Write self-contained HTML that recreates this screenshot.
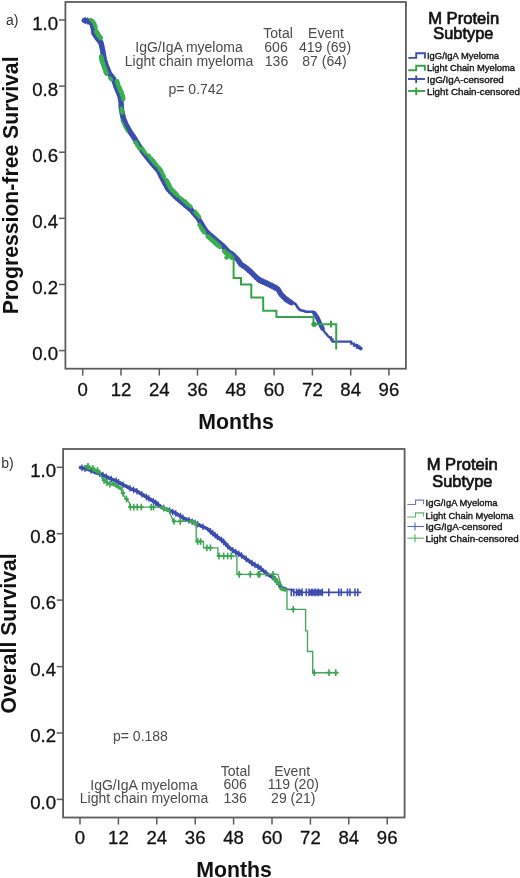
<!DOCTYPE html>
<html><head><meta charset="utf-8"><style>
html,body{margin:0;padding:0;background:#fff;width:520px;height:878px;overflow:hidden}
svg{display:block;font-family:"Liberation Sans",sans-serif;filter:blur(0.35px)}
</style></head><body>
<svg width="520" height="878" viewBox="0 0 520 878">
<rect width="520" height="878" fill="#fff"/>
<rect x="65.4" y="2" width="340.5" height="366.7" fill="none" stroke="#5c5c5c" stroke-width="1.8"/>
<line x1="59" y1="350.6" x2="65.4" y2="350.6" stroke="#5c5c5c" stroke-width="1.5"/>
<text x="58" y="360.1" text-anchor="end" font-size="18.6" fill="#111" stroke="#111" stroke-width="0.3">0.0</text>
<line x1="59" y1="284.5" x2="65.4" y2="284.5" stroke="#5c5c5c" stroke-width="1.5"/>
<text x="58" y="294.0" text-anchor="end" font-size="18.6" fill="#111" stroke="#111" stroke-width="0.3">0.2</text>
<line x1="59" y1="218.4" x2="65.4" y2="218.4" stroke="#5c5c5c" stroke-width="1.5"/>
<text x="58" y="227.9" text-anchor="end" font-size="18.6" fill="#111" stroke="#111" stroke-width="0.3">0.4</text>
<line x1="59" y1="152.2" x2="65.4" y2="152.2" stroke="#5c5c5c" stroke-width="1.5"/>
<text x="58" y="161.7" text-anchor="end" font-size="18.6" fill="#111" stroke="#111" stroke-width="0.3">0.6</text>
<line x1="59" y1="86.1" x2="65.4" y2="86.1" stroke="#5c5c5c" stroke-width="1.5"/>
<text x="58" y="95.6" text-anchor="end" font-size="18.6" fill="#111" stroke="#111" stroke-width="0.3">0.8</text>
<line x1="59" y1="20.0" x2="65.4" y2="20.0" stroke="#5c5c5c" stroke-width="1.5"/>
<text x="58" y="29.5" text-anchor="end" font-size="18.6" fill="#111" stroke="#111" stroke-width="0.3">1.0</text>
<line x1="82.7" y1="368.7" x2="82.7" y2="375.6" stroke="#5c5c5c" stroke-width="1.5"/>
<text x="82.7" y="395.6" text-anchor="middle" font-size="18.6" fill="#111" stroke="#111" stroke-width="0.3">0</text>
<line x1="121.0" y1="368.7" x2="121.0" y2="375.6" stroke="#5c5c5c" stroke-width="1.5"/>
<text x="121.0" y="395.6" text-anchor="middle" font-size="18.6" fill="#111" stroke="#111" stroke-width="0.3">12</text>
<line x1="159.3" y1="368.7" x2="159.3" y2="375.6" stroke="#5c5c5c" stroke-width="1.5"/>
<text x="159.3" y="395.6" text-anchor="middle" font-size="18.6" fill="#111" stroke="#111" stroke-width="0.3">24</text>
<line x1="197.5" y1="368.7" x2="197.5" y2="375.6" stroke="#5c5c5c" stroke-width="1.5"/>
<text x="197.5" y="395.6" text-anchor="middle" font-size="18.6" fill="#111" stroke="#111" stroke-width="0.3">36</text>
<line x1="235.8" y1="368.7" x2="235.8" y2="375.6" stroke="#5c5c5c" stroke-width="1.5"/>
<text x="235.8" y="395.6" text-anchor="middle" font-size="18.6" fill="#111" stroke="#111" stroke-width="0.3">48</text>
<line x1="274.1" y1="368.7" x2="274.1" y2="375.6" stroke="#5c5c5c" stroke-width="1.5"/>
<text x="274.1" y="395.6" text-anchor="middle" font-size="18.6" fill="#111" stroke="#111" stroke-width="0.3">60</text>
<line x1="312.4" y1="368.7" x2="312.4" y2="375.6" stroke="#5c5c5c" stroke-width="1.5"/>
<text x="312.4" y="395.6" text-anchor="middle" font-size="18.6" fill="#111" stroke="#111" stroke-width="0.3">72</text>
<line x1="350.7" y1="368.7" x2="350.7" y2="375.6" stroke="#5c5c5c" stroke-width="1.5"/>
<text x="350.7" y="395.6" text-anchor="middle" font-size="18.6" fill="#111" stroke="#111" stroke-width="0.3">84</text>
<line x1="388.9" y1="368.7" x2="388.9" y2="375.6" stroke="#5c5c5c" stroke-width="1.5"/>
<text x="388.9" y="395.6" text-anchor="middle" font-size="18.6" fill="#111" stroke="#111" stroke-width="0.3">96</text>
<text x="236" y="428.8" text-anchor="middle" font-weight="bold" font-size="21.3" fill="#111">Months</text>
<text transform="translate(18.3,185.4) rotate(-90)" text-anchor="middle" font-size="21.2" font-weight="bold" fill="#111">Progression-free Survival</text>
<text x="6" y="25" font-size="14" fill="#333">a)</text>
<text x="189" y="51.6" text-anchor="middle" font-size="14" fill="#4a4a4a">IgG/IgA myeloma</text>
<text x="189" y="65.6" text-anchor="middle" font-size="14" fill="#4a4a4a">Light chain myeloma</text>
<text x="278" y="37.6" text-anchor="middle" font-size="14" fill="#4a4a4a">Total</text>
<text x="326" y="37.6" text-anchor="middle" font-size="14" fill="#4a4a4a">Event</text>
<text x="276" y="51.5" text-anchor="middle" font-size="14" fill="#4a4a4a">606</text>
<text x="325" y="51.5" text-anchor="middle" font-size="14" fill="#4a4a4a">419 (69)</text>
<text x="276.5" y="65.8" text-anchor="middle" font-size="14" fill="#4a4a4a">136</text>
<text x="324.5" y="65.8" text-anchor="middle" font-size="14" fill="#4a4a4a">87 (64)</text>
<text x="168.5" y="94" font-size="14" fill="#4a4a4a">p= 0.742</text>
<text x="463.7" y="23.5" text-anchor="middle" font-size="16.6" fill="#111" stroke="#111" stroke-width="0.7">M Protein</text>
<text x="463.3" y="38.8" text-anchor="middle" font-size="16.4" fill="#111" stroke="#111" stroke-width="0.7">Subtype</text>
<polyline points="408.3,57.9 416.2,57.9 416.2,53.300000000000004 424.9,53.300000000000004 424.9,58.4" fill="none" stroke="#3b4dae" stroke-width="1.9"/>
<polyline points="408.3,70.3 416.2,70.3 416.2,65.7 424.9,65.7 424.9,70.8" fill="none" stroke="#33a548" stroke-width="1.9"/>
<line x1="408" y1="79.0" x2="425" y2="79.0" stroke="#3b4dae" stroke-width="1.9"/>
<line x1="416.2" y1="75.5" x2="416.2" y2="83.1" stroke="#3b4dae" stroke-width="1.9"/>
<line x1="408" y1="91.0" x2="425" y2="91.0" stroke="#33a548" stroke-width="1.9"/>
<line x1="416.2" y1="87.5" x2="416.2" y2="95.1" stroke="#33a548" stroke-width="1.9"/>
<text x="427" y="58.8" font-size="9.4" fill="#111" textLength="72" lengthAdjust="spacingAndGlyphs" stroke="#111" stroke-width="0.35">IgG/IgA Myeloma</text>
<text x="427" y="71.2" font-size="9.4" fill="#111" textLength="88" lengthAdjust="spacingAndGlyphs" stroke="#111" stroke-width="0.35">Light Chain Myeloma</text>
<text x="427" y="82.8" font-size="9.4" fill="#111" textLength="76.8" lengthAdjust="spacingAndGlyphs" stroke="#111" stroke-width="0.35">IgG/IgA-censored</text>
<text x="427" y="94.8" font-size="9.4" fill="#111" textLength="93" lengthAdjust="spacingAndGlyphs" stroke="#111" stroke-width="0.35">Light Chain-censored</text>
<polyline points="84.2,20.4 88.6,21.2 92.0,23.6 93.4,28.4 93.9,33.2 97.2,38.0 101.0,42.8 102.5,49.6 103.5,55.0 104.4,60.0 105.9,64.6 109.2,73.3 113.6,79.0 116.0,86.7 118.8,93.0 120.0,96.0 121.0,101.9 121.5,110.0 123.3,118.1 126.2,125.0 130.2,131.9 134.8,138.8 138.3,144.6 143.5,152.7 150.4,161.5 158.5,170.8 163.1,180.0 168.1,189.2 175.0,196.2 183.1,203.1 191.2,210.0 198.0,218.0 202.7,226.2 206.9,232.3 215.0,239.2 223.1,246.2 227.7,251.2 233.1,255.0 237.7,259.6 240.8,264.2 245.4,267.3 250.8,271.9 256.2,277.3 259.6,280.2 266.2,283.1 273.1,286.5 277.7,288.8 281.2,294.6 285.8,299.2 291.5,302.7" fill="none" stroke="#3b4dae" stroke-width="5.4" stroke-linejoin="round" stroke-linecap="round"/>
<polyline points="291.5,302.7 295.0,303.5 296.5,305.5 298.0,308.0 300.0,310.0 304.0,311.0 306.0,311.8 313.1,311.8" fill="none" stroke="#3b4dae" stroke-width="2.6" stroke-linejoin="round" stroke-linecap="round"/>
<polyline points="314.5,313.5 317.0,317.0 320.0,323.5 322.5,328.5" fill="none" stroke="#3b4dae" stroke-width="4.6" stroke-linejoin="round" stroke-linecap="round"/>
<polyline points="313.1,311.8 315.0,313.5 322.5,328.5 324.5,332.0 326.5,334.0 327.5,335.5 329.2,337.3" fill="none" stroke="#3b4dae" stroke-width="2.4" stroke-linejoin="round" stroke-linecap="round"/>
<polyline points="329.2,337.3 331,337.3 331,339.5 332.5,339.5 332.5,341.6 351.2,341.6 351.2,343.6 354,343.6 354,345.6 357,345.6 357,347.6 360.6,347.6" fill="none" stroke="#3b4dae" stroke-width="2.3" stroke-linejoin="miter"/>
<line x1="356.5" y1="345.5" x2="360.8" y2="348.5" stroke="#3b4dae" stroke-width="3.8" stroke-linecap="round"/>
<path d="M85.3 17.2V24.0M82.7 20.6H87.9" stroke="#3b4dae" stroke-width="1.3"/>
<path d="M87.5 17.6V24.4M84.9 21.0H90.1" stroke="#3b4dae" stroke-width="1.3"/>
<path d="M92.3 21.4V28.2M89.8 24.8H94.9" stroke="#3b4dae" stroke-width="1.3"/>
<path d="M93.1 23.8V30.6M90.5 27.2H95.7" stroke="#3b4dae" stroke-width="1.3"/>
<path d="M93.5 26.2V33.0M90.9 29.6H96.1" stroke="#3b4dae" stroke-width="1.3"/>
<path d="M93.8 28.6V35.4M91.2 32.0H96.4" stroke="#3b4dae" stroke-width="1.3"/>
<path d="M94.7 31.0V37.8M92.1 34.4H97.3" stroke="#3b4dae" stroke-width="1.3"/>
<path d="M96.4 33.4V40.2M93.8 36.8H99.0" stroke="#3b4dae" stroke-width="1.3"/>
<path d="M98.2 35.8V42.6M95.6 39.2H100.8" stroke="#3b4dae" stroke-width="1.3"/>
<path d="M100.0 38.2V45.0M97.5 41.6H102.6" stroke="#3b4dae" stroke-width="1.3"/>
<path d="M101.2 40.5V47.3M98.7 43.9H103.8" stroke="#3b4dae" stroke-width="1.3"/>
<path d="M101.8 42.8V49.6M99.2 46.2H104.3" stroke="#3b4dae" stroke-width="1.3"/>
<path d="M102.8 47.6V54.4M100.2 51.0H105.3" stroke="#3b4dae" stroke-width="1.3"/>
<path d="M103.2 50.2V57.0M100.7 53.6H105.8" stroke="#3b4dae" stroke-width="1.3"/>
<path d="M104.8 57.8V64.5M102.2 61.1H107.4" stroke="#3b4dae" stroke-width="1.3"/>
<path d="M105.5 60.0V66.8M102.9 63.4H108.1" stroke="#3b4dae" stroke-width="1.3"/>
<path d="M107.1 64.5V71.3M104.5 67.9H109.7" stroke="#3b4dae" stroke-width="1.3"/>
<path d="M108.8 68.8V75.6M106.2 72.2H111.4" stroke="#3b4dae" stroke-width="1.3"/>
<path d="M109.9 70.8V77.7M107.3 74.2H112.5" stroke="#3b4dae" stroke-width="1.3"/>
<path d="M111.4 72.8V79.6M108.8 76.2H114.0" stroke="#3b4dae" stroke-width="1.3"/>
<path d="M112.9 74.6V81.5M110.3 78.0H115.5" stroke="#3b4dae" stroke-width="1.3"/>
<path d="M114.8 79.4V86.2M112.2 82.8H117.4" stroke="#3b4dae" stroke-width="1.3"/>
<path d="M115.6 82.0V88.8M113.0 85.4H118.2" stroke="#3b4dae" stroke-width="1.3"/>
<path d="M117.4 86.4V93.2M114.8 89.8H120.0" stroke="#3b4dae" stroke-width="1.3"/>
<path d="M118.3 88.5V95.4M115.7 92.0H120.9" stroke="#3b4dae" stroke-width="1.3"/>
<path d="M119.4 91.1V97.9M116.8 94.5H122.0" stroke="#3b4dae" stroke-width="1.3"/>
<path d="M120.2 94.1V100.9M117.7 97.5H122.8" stroke="#3b4dae" stroke-width="1.3"/>
<path d="M120.8 97.0V103.8M118.2 100.4H123.3" stroke="#3b4dae" stroke-width="1.3"/>
<path d="M121.2 102.5V109.4M118.7 106.0H123.8" stroke="#3b4dae" stroke-width="1.3"/>
<path d="M121.4 105.2V112.1M118.8 108.7H124.0" stroke="#3b4dae" stroke-width="1.3"/>
<path d="M121.8 107.9V114.8M119.2 111.3H124.4" stroke="#3b4dae" stroke-width="1.3"/>
<path d="M122.4 110.6V117.5M119.8 114.0H125.0" stroke="#3b4dae" stroke-width="1.3"/>
<path d="M123.0 113.3V120.2M120.4 116.8H125.6" stroke="#3b4dae" stroke-width="1.3"/>
<path d="M125.7 120.4V127.2M123.1 123.8H128.3" stroke="#3b4dae" stroke-width="1.3"/>
<path d="M126.9 122.8V129.6M124.3 126.2H129.5" stroke="#3b4dae" stroke-width="1.3"/>
<path d="M128.2 125.0V131.8M125.6 128.4H130.8" stroke="#3b4dae" stroke-width="1.3"/>
<path d="M132.5 132.0V138.8M129.9 135.4H135.1" stroke="#3b4dae" stroke-width="1.3"/>
<path d="M135.4 136.4V143.2M132.8 139.8H138.0" stroke="#3b4dae" stroke-width="1.3"/>
<path d="M136.6 138.3V145.1M134.0 141.7H139.2" stroke="#3b4dae" stroke-width="1.3"/>
<path d="M139.0 142.2V149.0M136.4 145.6H141.6" stroke="#3b4dae" stroke-width="1.3"/>
<path d="M140.2 144.2V151.0M137.7 147.6H142.8" stroke="#3b4dae" stroke-width="1.3"/>
<path d="M141.6 146.3V153.1M139.0 149.7H144.2" stroke="#3b4dae" stroke-width="1.3"/>
<path d="M145.6 151.9V158.7M143.0 155.3H148.2" stroke="#3b4dae" stroke-width="1.3"/>
<path d="M148.3 155.5V162.3M145.7 158.9H150.9" stroke="#3b4dae" stroke-width="1.3"/>
<path d="M151.2 159.0V165.8M148.6 162.4H153.8" stroke="#3b4dae" stroke-width="1.3"/>
<path d="M152.8 160.9V167.7M150.2 164.3H155.4" stroke="#3b4dae" stroke-width="1.3"/>
<path d="M154.4 162.8V169.6M151.8 166.2H157.0" stroke="#3b4dae" stroke-width="1.3"/>
<path d="M159.1 168.6V175.4M156.5 172.0H161.7" stroke="#3b4dae" stroke-width="1.3"/>
<path d="M161.4 173.2V180.0M158.8 176.6H164.0" stroke="#3b4dae" stroke-width="1.3"/>
<path d="M167.5 184.6V191.4M164.9 188.0H170.1" stroke="#3b4dae" stroke-width="1.3"/>
<path d="M169.0 186.7V193.5M166.4 190.1H171.6" stroke="#3b4dae" stroke-width="1.3"/>
<path d="M172.4 190.2V197.0M169.8 193.6H175.0" stroke="#3b4dae" stroke-width="1.3"/>
<path d="M174.1 191.9V198.7M171.5 195.3H176.7" stroke="#3b4dae" stroke-width="1.3"/>
<path d="M176.0 193.7V200.5M173.4 197.1H178.6" stroke="#3b4dae" stroke-width="1.3"/>
<path d="M178.0 195.4V202.2M175.4 198.8H180.6" stroke="#3b4dae" stroke-width="1.3"/>
<path d="M180.1 197.1V203.9M177.5 200.5H182.7" stroke="#3b4dae" stroke-width="1.3"/>
<path d="M184.1 200.6V207.4M181.5 204.0H186.7" stroke="#3b4dae" stroke-width="1.3"/>
<path d="M186.1 202.3V209.1M183.5 205.7H188.7" stroke="#3b4dae" stroke-width="1.3"/>
<path d="M188.2 204.0V210.8M185.6 207.4H190.8" stroke="#3b4dae" stroke-width="1.3"/>
<path d="M192.0 207.6V214.4M189.4 211.0H194.6" stroke="#3b4dae" stroke-width="1.3"/>
<path d="M193.8 209.6V216.4M191.2 213.0H196.3" stroke="#3b4dae" stroke-width="1.3"/>
<path d="M195.4 211.6V218.4M192.8 215.0H198.0" stroke="#3b4dae" stroke-width="1.3"/>
<path d="M200.9 219.7V226.5M198.3 223.1H203.5" stroke="#3b4dae" stroke-width="1.3"/>
<path d="M202.1 221.8V228.6M199.5 225.2H204.7" stroke="#3b4dae" stroke-width="1.3"/>
<path d="M203.4 223.8V230.6M200.8 227.2H206.0" stroke="#3b4dae" stroke-width="1.3"/>
<path d="M207.9 229.8V236.6M205.3 233.2H210.5" stroke="#3b4dae" stroke-width="1.3"/>
<path d="M209.9 231.5V238.3M207.3 234.9H212.5" stroke="#3b4dae" stroke-width="1.3"/>
<path d="M212.0 233.2V240.0M209.4 236.6H214.6" stroke="#3b4dae" stroke-width="1.3"/>
<path d="M214.0 234.9V241.7M211.4 238.3H216.6" stroke="#3b4dae" stroke-width="1.3"/>
<path d="M216.0 236.7V243.5M213.4 240.1H218.6" stroke="#3b4dae" stroke-width="1.3"/>
<path d="M218.0 238.4V245.2M215.4 241.8H220.6" stroke="#3b4dae" stroke-width="1.3"/>
<path d="M220.1 240.2V247.0M217.5 243.6H222.7" stroke="#3b4dae" stroke-width="1.3"/>
<path d="M222.1 241.9V248.7M219.5 245.3H224.7" stroke="#3b4dae" stroke-width="1.3"/>
<path d="M223.9 243.6V250.4M221.3 247.0H226.5" stroke="#3b4dae" stroke-width="1.3"/>
<path d="M225.4 245.3V252.1M222.8 248.7H228.0" stroke="#3b4dae" stroke-width="1.3"/>
<path d="M226.9 247.0V253.8M224.3 250.4H229.5" stroke="#3b4dae" stroke-width="1.3"/>
<path d="M232.2 251.0V257.8M229.6 254.4H234.8" stroke="#3b4dae" stroke-width="1.3"/>
<path d="M238.5 257.4V264.1M235.9 260.8H241.1" stroke="#3b4dae" stroke-width="1.3"/>
<path d="M248.1 266.2V273.0M245.5 269.6H250.7" stroke="#3b4dae" stroke-width="1.3"/>
<path d="M249.9 267.7V274.5M247.3 271.1H252.5" stroke="#3b4dae" stroke-width="1.3"/>
<path d="M251.7 269.4V276.2M249.1 272.8H254.3" stroke="#3b4dae" stroke-width="1.3"/>
<path d="M255.3 273.0V279.8M252.7 276.4H257.9" stroke="#3b4dae" stroke-width="1.3"/>
<path d="M257.1 274.6V281.4M254.5 278.0H259.7" stroke="#3b4dae" stroke-width="1.3"/>
<path d="M258.8 276.1V282.9M256.1 279.5H261.4" stroke="#3b4dae" stroke-width="1.3"/>
<path d="M260.7 277.3V284.1M258.1 280.7H263.3" stroke="#3b4dae" stroke-width="1.3"/>
<path d="M262.9 278.2V285.0M260.3 281.6H265.5" stroke="#3b4dae" stroke-width="1.3"/>
<path d="M265.1 279.2V286.0M262.5 282.6H267.7" stroke="#3b4dae" stroke-width="1.3"/>
<path d="M267.4 280.3V287.1M264.8 283.7H270.0" stroke="#3b4dae" stroke-width="1.3"/>
<path d="M269.6 281.4V288.2M267.0 284.8H272.2" stroke="#3b4dae" stroke-width="1.3"/>
<path d="M272.0 282.5V289.3M269.4 285.9H274.6" stroke="#3b4dae" stroke-width="1.3"/>
<path d="M274.2 283.7V290.5M271.6 287.1H276.9" stroke="#3b4dae" stroke-width="1.3"/>
<path d="M276.6 284.8V291.6M273.9 288.2H279.2" stroke="#3b4dae" stroke-width="1.3"/>
<path d="M280.6 290.2V297.0M278.0 293.6H283.2" stroke="#3b4dae" stroke-width="1.3"/>
<path d="M282.4 292.4V299.1M279.8 295.8H285.0" stroke="#3b4dae" stroke-width="1.3"/>
<path d="M284.6 294.7V301.4M282.0 298.1H287.2" stroke="#3b4dae" stroke-width="1.3"/>
<path d="M286.8 296.4V303.2M284.1 299.8H289.4" stroke="#3b4dae" stroke-width="1.3"/>
<path d="M288.6 297.6V304.3M286.0 300.9H291.2" stroke="#3b4dae" stroke-width="1.3"/>
<polyline points="90.8,19.8 91.7,20.4 92.5,21.0 94.3,22.9 94.7,24.1 95.0,25.3 95.4,26.5 95.8,28.2" fill="none" stroke="#3aaf4e" stroke-width="3.7" stroke-linejoin="round" stroke-linecap="round"/>
<path d="M93.6 19.4V25.8M91.0 22.6H96.2" stroke="#3aaf4e" stroke-width="1.3"/>
<path d="M95.0 22.1V28.5M92.4 25.3H97.6" stroke="#3aaf4e" stroke-width="1.3"/>
<polyline points="96.6,31.7 96.2,31.6 96.9,32.6 97.5,33.5 98.2,34.5 98.8,35.5 99.4,36.3 100.0,37.1 100.7,37.9" fill="none" stroke="#3aaf4e" stroke-width="4.6" stroke-linejoin="round" stroke-linecap="round"/>
<path d="M96.7 28.9V35.3M94.1 32.1H99.3" stroke="#3aaf4e" stroke-width="1.3"/>
<path d="M97.5 30.3V36.7M94.9 33.5H100.1" stroke="#3aaf4e" stroke-width="1.3"/>
<path d="M98.8 32.2V38.6M96.2 35.4H101.4" stroke="#3aaf4e" stroke-width="1.3"/>
<path d="M100.0 33.9V40.3M97.4 37.1H102.6" stroke="#3aaf4e" stroke-width="1.3"/>
<polyline points="101.1,56.5 101.3,57.5 101.5,58.5 101.7,59.5 101.9,60.8 102.3,62.0 102.7,63.1 103.1,64.3 103.5,65.5 103.8,66.5 104.2,67.5 104.6,68.4 104.9,69.4 105.3,70.4 105.7,71.3 106.0,72.3 106.4,73.3" fill="none" stroke="#3aaf4e" stroke-width="4.6" stroke-linejoin="round" stroke-linecap="round"/>
<path d="M101.7 56.4V62.8M99.1 59.6H104.3" stroke="#3aaf4e" stroke-width="1.3"/>
<path d="M102.3 58.8V65.2M99.7 62.0H104.9" stroke="#3aaf4e" stroke-width="1.3"/>
<path d="M104.6 65.2V71.6M102.0 68.4H107.2" stroke="#3aaf4e" stroke-width="1.3"/>
<path d="M106.0 69.1V75.5M103.4 72.3H108.6" stroke="#3aaf4e" stroke-width="1.3"/>
<polyline points="109.9,78.0 110.5,78.8 111.2,79.6 111.4,79.7" fill="none" stroke="#3aaf4e" stroke-width="3.7" stroke-linejoin="round" stroke-linecap="round"/>
<polyline points="117.0,81.1 117.3,82.1 117.6,83.0 117.9,84.0 118.2,85.0 118.4,85.6 118.8,86.7 119.3,87.7 119.8,88.8 120.2,89.8 120.7,90.9 121.2,92.0 121.6,93.0 122.0,94.0 122.6,95.6 122.8,96.7 123.0,97.9 123.2,99.1" fill="none" stroke="#3aaf4e" stroke-width="4.6" stroke-linejoin="round" stroke-linecap="round"/>
<path d="M119.3 84.5V90.9M116.7 87.7H121.9" stroke="#3aaf4e" stroke-width="1.3"/>
<path d="M120.2 86.6V93.0M117.6 89.8H122.8" stroke="#3aaf4e" stroke-width="1.3"/>
<path d="M121.2 88.8V95.2M118.6 92.0H123.8" stroke="#3aaf4e" stroke-width="1.3"/>
<polyline points="121.4,108.0 121.4,109.0 121.5,110.0 121.7,111.0 122.0,112.0 122.2,113.0" fill="none" stroke="#3aaf4e" stroke-width="3.7" stroke-linejoin="round" stroke-linecap="round"/>
<path d="M121.7 107.8V114.2M119.1 111.0H124.3" stroke="#3aaf4e" stroke-width="1.3"/>
<polyline points="135.4,142.4 136.0,143.3 136.6,144.3 137.2,145.3 137.8,146.2 138.4,147.1 138.9,148.0 139.5,148.9" fill="none" stroke="#3aaf4e" stroke-width="3.7" stroke-linejoin="round" stroke-linecap="round"/>
<path d="M136.0 140.1V146.5M133.4 143.3H138.6" stroke="#3aaf4e" stroke-width="1.3"/>
<polyline points="142.3,148.4 142.9,149.3 143.4,150.2 144.0,151.1 144.5,151.9 145.2,152.7 145.8,153.5" fill="none" stroke="#3aaf4e" stroke-width="3.7" stroke-linejoin="round" stroke-linecap="round"/>
<polyline points="148.4,155.3 149.1,156.1 149.7,156.9 150.3,157.7 151.0,158.5 151.6,159.3 152.1,160.0 152.8,160.8 153.5,161.5 154.2,162.3 154.8,163.1 155.5,163.9 156.2,164.6 156.9,165.4" fill="none" stroke="#3aaf4e" stroke-width="3.7" stroke-linejoin="round" stroke-linecap="round"/>
<path d="M150.3 154.5V160.9M147.7 157.7H152.9" stroke="#3aaf4e" stroke-width="1.3"/>
<path d="M152.8 157.6V164.0M150.2 160.8H155.4" stroke="#3aaf4e" stroke-width="1.3"/>
<path d="M154.2 159.1V165.5M151.6 162.3H156.8" stroke="#3aaf4e" stroke-width="1.3"/>
<path d="M155.5 160.7V167.1M152.9 163.9H158.1" stroke="#3aaf4e" stroke-width="1.3"/>
<polyline points="158.9,167.7 159.6,168.5 160.6,169.8 161.0,170.7 161.5,171.6 161.9,172.5 162.4,173.5 162.9,174.4 163.3,175.3 163.8,176.2 164.2,177.1" fill="none" stroke="#3aaf4e" stroke-width="3.7" stroke-linejoin="round" stroke-linecap="round"/>
<path d="M159.7 165.6V172.0M157.1 168.8H162.3" stroke="#3aaf4e" stroke-width="1.3"/>
<path d="M161.0 167.5V173.9M158.4 170.7H163.6" stroke="#3aaf4e" stroke-width="1.3"/>
<path d="M163.8 173.0V179.4M161.2 176.2H166.4" stroke="#3aaf4e" stroke-width="1.3"/>
<polyline points="166.6,180.5 167.1,181.4 167.6,182.3 168.1,183.3 168.6,184.2 169.1,185.1 169.6,186.0" fill="none" stroke="#3aaf4e" stroke-width="4.6" stroke-linejoin="round" stroke-linecap="round"/>
<polyline points="169.7,187.6 170.5,188.4 171.3,189.1 172.0,189.9 172.8,190.7 173.6,191.5 174.3,192.3 175.1,193.0 175.9,193.8 176.5,194.4 177.3,195.1 178.1,195.8" fill="none" stroke="#3aaf4e" stroke-width="3.7" stroke-linejoin="round" stroke-linecap="round"/>
<path d="M170.5 185.2V191.6M167.9 188.4H173.1" stroke="#3aaf4e" stroke-width="1.3"/>
<path d="M172.0 186.7V193.1M169.4 189.9H174.6" stroke="#3aaf4e" stroke-width="1.3"/>
<path d="M173.6 188.3V194.7M171.0 191.5H176.2" stroke="#3aaf4e" stroke-width="1.3"/>
<path d="M175.1 189.8V196.2M172.5 193.0H177.7" stroke="#3aaf4e" stroke-width="1.3"/>
<path d="M176.6 191.3V197.7M174.0 194.5H179.2" stroke="#3aaf4e" stroke-width="1.3"/>
<polyline points="180.5,197.9 181.4,198.6 182.2,199.3 183.0,200.0 183.8,200.7 184.6,201.3 185.4,202.0 186.2,202.7 187.0,203.4 187.8,204.1 188.6,204.8 189.5,205.5 190.3,206.2 191.1,206.9" fill="none" stroke="#3aaf4e" stroke-width="3.7" stroke-linejoin="round" stroke-linecap="round"/>
<path d="M186.2 199.5V205.9M183.6 202.7H188.8" stroke="#3aaf4e" stroke-width="1.3"/>
<polyline points="195.3,212.0 196.0,212.8 196.7,213.6 197.3,214.4 198.0,215.2 198.7,216.0 199.6,217.1" fill="none" stroke="#3aaf4e" stroke-width="3.7" stroke-linejoin="round" stroke-linecap="round"/>
<path d="M196.0 209.6V216.0M193.4 212.8H198.6" stroke="#3aaf4e" stroke-width="1.3"/>
<polyline points="199.1,224.6 199.7,225.5 200.2,226.4 200.8,227.5 201.4,228.4 202.0,229.2 202.6,230.1 203.2,231.0 203.8,231.9 204.4,232.7" fill="none" stroke="#3aaf4e" stroke-width="3.7" stroke-linejoin="round" stroke-linecap="round"/>
<path d="M202.0 226.0V232.4M199.4 229.2H204.6" stroke="#3aaf4e" stroke-width="1.3"/>
<path d="M203.2 227.8V234.2M200.6 231.0H205.8" stroke="#3aaf4e" stroke-width="1.3"/>
<polyline points="207.6,236.3 208.5,237.0 209.3,237.7 210.1,238.4 210.9,239.1 211.7,239.8 212.5,240.5 213.3,241.2 214.1,241.9 214.9,242.6 215.7,243.3 216.5,244.0 217.3,244.7 218.2,245.4 219.0,246.1 219.8,246.8" fill="none" stroke="#3aaf4e" stroke-width="4.6" stroke-linejoin="round" stroke-linecap="round"/>
<path d="M210.1 235.2V241.6M207.5 238.4H212.7" stroke="#3aaf4e" stroke-width="1.3"/>
<path d="M214.9 239.4V245.8M212.3 242.6H217.5" stroke="#3aaf4e" stroke-width="1.3"/>
<path d="M216.5 240.8V247.2M213.9 244.0H219.1" stroke="#3aaf4e" stroke-width="1.3"/>
<polyline points="224.3,251.3 225.0,252.1 226.2,253.3 227.1,254.0 228.0,254.6 228.9,255.2 229.8,255.9 230.7,256.5 231.3,256.8 232.0,257.6" fill="none" stroke="#3aaf4e" stroke-width="4.6" stroke-linejoin="round" stroke-linecap="round"/>
<path d="M227.1 250.8V257.2M224.5 254.0H229.7" stroke="#3aaf4e" stroke-width="1.3"/>
<path d="M228.9 252.0V258.4M226.3 255.2H231.5" stroke="#3aaf4e" stroke-width="1.3"/>
<path d="M230.5 253.1V259.5M227.9 256.3H233.1" stroke="#3aaf4e" stroke-width="1.3"/>
<polyline points="121.3,120.1 121.7,121.1 122.1,122.1 122.6,123.1 123.0,124.0 123.4,125.0 124.0,126.3 124.5,127.3 125.1,128.3 125.7,129.3 126.2,130.2 126.8,131.2 127.4,132.2" fill="none" stroke="#3aaf4e" stroke-width="1.8" stroke-linejoin="round" stroke-linecap="round"/>
<polyline points="231.0,256.5 233.6,258.5 233.6,277.9 241.0,277.9 241.0,284.6 251.3,284.6 251.3,297.5 263.2,297.5 263.2,310.8 276.4,310.8 276.4,317.0 313.5,317.0 313.5,324.2 336.2,324.2 336.2,349.6" fill="none" stroke="#33a548" stroke-width="2" stroke-linejoin="miter"/>
<circle cx="314" cy="324.3" r="2.6" fill="#33a548"/>
<line x1="331" y1="320.8" x2="331" y2="327.6" stroke="#33a548" stroke-width="2"/>
<circle cx="226.5" cy="257.5" r="2.2" fill="#3aaf4e"/>
<rect x="63.1" y="449" width="341.5" height="368.5" fill="none" stroke="#5c5c5c" stroke-width="1.8"/>
<line x1="56.7" y1="799.4" x2="63.1" y2="799.4" stroke="#5c5c5c" stroke-width="1.5"/>
<text x="56.0" y="808.7" text-anchor="end" font-size="18.6" fill="#111" stroke="#111" stroke-width="0.3">0.0</text>
<line x1="56.7" y1="733.0" x2="63.1" y2="733.0" stroke="#5c5c5c" stroke-width="1.5"/>
<text x="56.0" y="742.3" text-anchor="end" font-size="18.6" fill="#111" stroke="#111" stroke-width="0.3">0.2</text>
<line x1="56.7" y1="666.6" x2="63.1" y2="666.6" stroke="#5c5c5c" stroke-width="1.5"/>
<text x="56.0" y="675.9" text-anchor="end" font-size="18.6" fill="#111" stroke="#111" stroke-width="0.3">0.4</text>
<line x1="56.7" y1="600.1" x2="63.1" y2="600.1" stroke="#5c5c5c" stroke-width="1.5"/>
<text x="56.0" y="609.4" text-anchor="end" font-size="18.6" fill="#111" stroke="#111" stroke-width="0.3">0.6</text>
<line x1="56.7" y1="533.7" x2="63.1" y2="533.7" stroke="#5c5c5c" stroke-width="1.5"/>
<text x="56.0" y="543.0" text-anchor="end" font-size="18.6" fill="#111" stroke="#111" stroke-width="0.3">0.8</text>
<line x1="56.7" y1="467.3" x2="63.1" y2="467.3" stroke="#5c5c5c" stroke-width="1.5"/>
<text x="56.0" y="476.6" text-anchor="end" font-size="18.6" fill="#111" stroke="#111" stroke-width="0.3">1.0</text>
<line x1="80.0" y1="817.4" x2="80.0" y2="824.6" stroke="#5c5c5c" stroke-width="1.5"/>
<text x="80.0" y="844.1" text-anchor="middle" font-size="18.6" fill="#111" stroke="#111" stroke-width="0.3">0</text>
<line x1="118.4" y1="817.4" x2="118.4" y2="824.6" stroke="#5c5c5c" stroke-width="1.5"/>
<text x="118.4" y="844.1" text-anchor="middle" font-size="18.6" fill="#111" stroke="#111" stroke-width="0.3">12</text>
<line x1="156.8" y1="817.4" x2="156.8" y2="824.6" stroke="#5c5c5c" stroke-width="1.5"/>
<text x="156.8" y="844.1" text-anchor="middle" font-size="18.6" fill="#111" stroke="#111" stroke-width="0.3">24</text>
<line x1="195.2" y1="817.4" x2="195.2" y2="824.6" stroke="#5c5c5c" stroke-width="1.5"/>
<text x="195.2" y="844.1" text-anchor="middle" font-size="18.6" fill="#111" stroke="#111" stroke-width="0.3">36</text>
<line x1="233.6" y1="817.4" x2="233.6" y2="824.6" stroke="#5c5c5c" stroke-width="1.5"/>
<text x="233.6" y="844.1" text-anchor="middle" font-size="18.6" fill="#111" stroke="#111" stroke-width="0.3">48</text>
<line x1="272.0" y1="817.4" x2="272.0" y2="824.6" stroke="#5c5c5c" stroke-width="1.5"/>
<text x="272.0" y="844.1" text-anchor="middle" font-size="18.6" fill="#111" stroke="#111" stroke-width="0.3">60</text>
<line x1="310.4" y1="817.4" x2="310.4" y2="824.6" stroke="#5c5c5c" stroke-width="1.5"/>
<text x="310.4" y="844.1" text-anchor="middle" font-size="18.6" fill="#111" stroke="#111" stroke-width="0.3">72</text>
<line x1="348.8" y1="817.4" x2="348.8" y2="824.6" stroke="#5c5c5c" stroke-width="1.5"/>
<text x="348.8" y="844.1" text-anchor="middle" font-size="18.6" fill="#111" stroke="#111" stroke-width="0.3">84</text>
<line x1="387.2" y1="817.4" x2="387.2" y2="824.6" stroke="#5c5c5c" stroke-width="1.5"/>
<text x="387.2" y="844.1" text-anchor="middle" font-size="18.6" fill="#111" stroke="#111" stroke-width="0.3">96</text>
<text x="234" y="877.2" text-anchor="middle" font-weight="bold" font-size="21.3" fill="#111">Months</text>
<text transform="translate(15.9,633.4) rotate(-90)" text-anchor="middle" font-size="21.2" font-weight="bold" fill="#111">Overall Survival</text>
<text x="1.3" y="467.7" font-size="14" fill="#333">b)</text>
<text x="113" y="741.3" font-size="14" fill="#4a4a4a">p= 0.188</text>
<text x="144" y="789.5" text-anchor="middle" font-size="14" fill="#4a4a4a">IgG/IgA myeloma</text>
<text x="144" y="803.3" text-anchor="middle" font-size="14" fill="#4a4a4a">Light chain myeloma</text>
<text x="235.6" y="775.6" text-anchor="middle" font-size="14" fill="#4a4a4a">Total</text>
<text x="292.2" y="775.6" text-anchor="middle" font-size="14" fill="#4a4a4a">Event</text>
<text x="235.1" y="789.4" text-anchor="middle" font-size="14" fill="#4a4a4a">606</text>
<text x="293.3" y="789.4" text-anchor="middle" font-size="14" fill="#4a4a4a">119 (20)</text>
<text x="235.1" y="803.4" text-anchor="middle" font-size="14" fill="#4a4a4a">136</text>
<text x="293.3" y="803.4" text-anchor="middle" font-size="14" fill="#4a4a4a">29 (21)</text>
<text x="462.2" y="470.3" text-anchor="middle" font-size="16.6" fill="#111" stroke="#111" stroke-width="0.7">M Protein</text>
<text x="462.3" y="486.9" text-anchor="middle" font-size="16.4" fill="#111" stroke="#111" stroke-width="0.7">Subtype</text>
<polyline points="407.4,504.5 415.5,504.5 415.5,500.09999999999997 423.6,500.09999999999997 423.6,504.2" fill="none" stroke="#6f78c4" stroke-width="1.1"/>
<polyline points="407.4,517.0 415.5,517.0 415.5,512.9000000000001 423.6,512.9000000000001 423.6,516.7" fill="none" stroke="#55b968" stroke-width="1.1"/>
<line x1="407.4" y1="526.5" x2="424" y2="526.5" stroke="#5a66c0" stroke-width="1.1"/>
<line x1="415" y1="522.5" x2="415" y2="530.5" stroke="#5a66c0" stroke-width="1.1"/>
<line x1="407.4" y1="538.2" x2="424" y2="538.2" stroke="#4cb860" stroke-width="1.1"/>
<line x1="415" y1="534.2" x2="415" y2="542.2" stroke="#4cb860" stroke-width="1.1"/>
<text x="425.6" y="506.0" font-size="9.4" fill="#111" textLength="72" lengthAdjust="spacingAndGlyphs" stroke="#111" stroke-width="0.35">IgG/IgA Myeloma</text>
<text x="425.6" y="518.5" font-size="9.4" fill="#111" textLength="88" lengthAdjust="spacingAndGlyphs" stroke="#111" stroke-width="0.35">Light Chain Myeloma</text>
<text x="425.6" y="529.8" font-size="9.4" fill="#111" textLength="76.8" lengthAdjust="spacingAndGlyphs" stroke="#111" stroke-width="0.35">IgG/IgA-censored</text>
<text x="425.6" y="541.5" font-size="9.4" fill="#111" textLength="93" lengthAdjust="spacingAndGlyphs" stroke="#111" stroke-width="0.35">Light Chain-censored</text>
<polyline points="80.5,467.5 89.5,469.8 95.0,472.5 101.1,474.0 105.0,476.2 112.6,479.6 115.0,480.3 124.2,485.4 125.0,485.6 131.5,489.2 135.7,490.5 143.1,495.0 154.6,501.9 161.5,507.3 166.0,508.8 170.8,511.2 174.6,512.7 184.2,518.5 193.8,522.3 201.5,526.2 207.0,528.5 214.0,534.3 222.7,540.8 228.8,547.4 234.2,551.3 240.4,554.6 247.3,559.8 253.5,564.2 259.6,567.5 267.3,574.2 274.0,578.0 277.9,582.9 281.7,587.7 285.6,588.9" fill="none" stroke="#3b4dae" stroke-width="3.5" stroke-linejoin="round" stroke-linecap="round"/>
<path d="M82.0 464.6V471.2M79.4 467.9H84.6" stroke="#3b4dae" stroke-width="1.25"/>
<path d="M85.0 465.3V471.9M82.4 468.6H87.6" stroke="#3b4dae" stroke-width="1.25"/>
<path d="M90.9 467.2V473.8M88.3 470.5H93.5" stroke="#3b4dae" stroke-width="1.25"/>
<path d="M99.6 470.3V476.9M97.0 473.6H102.2" stroke="#3b4dae" stroke-width="1.25"/>
<path d="M103.0 471.8V478.4M100.5 475.1H105.6" stroke="#3b4dae" stroke-width="1.25"/>
<path d="M106.3 473.5V480.1M103.7 476.8H108.9" stroke="#3b4dae" stroke-width="1.25"/>
<path d="M111.3 475.7V482.3M108.7 479.0H113.9" stroke="#3b4dae" stroke-width="1.25"/>
<path d="M116.2 477.6V484.2M113.6 480.9H118.8" stroke="#3b4dae" stroke-width="1.25"/>
<path d="M118.5 478.9V485.5M115.9 482.2H121.0" stroke="#3b4dae" stroke-width="1.25"/>
<path d="M123.0 481.5V488.1M120.5 484.8H125.6" stroke="#3b4dae" stroke-width="1.25"/>
<path d="M129.9 485.0V491.6M127.3 488.3H132.5" stroke="#3b4dae" stroke-width="1.25"/>
<path d="M133.6 486.6V493.2M131.0 489.9H136.2" stroke="#3b4dae" stroke-width="1.25"/>
<path d="M136.9 487.9V494.6M134.3 491.2H139.5" stroke="#3b4dae" stroke-width="1.25"/>
<path d="M141.9 490.9V497.6M139.3 494.2H144.5" stroke="#3b4dae" stroke-width="1.25"/>
<path d="M146.5 493.8V500.4M143.9 497.1H149.1" stroke="#3b4dae" stroke-width="1.25"/>
<path d="M148.8 495.1V501.8M146.2 498.4H151.4" stroke="#3b4dae" stroke-width="1.25"/>
<path d="M153.4 497.9V504.5M150.8 501.2H156.0" stroke="#3b4dae" stroke-width="1.25"/>
<path d="M155.8 499.5V506.1M153.2 502.8H158.3" stroke="#3b4dae" stroke-width="1.25"/>
<path d="M158.1 501.3V507.9M155.5 504.6H160.7" stroke="#3b4dae" stroke-width="1.25"/>
<path d="M163.8 504.8V511.4M161.2 508.1H166.3" stroke="#3b4dae" stroke-width="1.25"/>
<path d="M169.6 507.3V513.9M167.0 510.6H172.2" stroke="#3b4dae" stroke-width="1.25"/>
<path d="M172.7 508.7V515.2M170.1 512.0H175.3" stroke="#3b4dae" stroke-width="1.25"/>
<path d="M175.8 510.1V516.7M173.2 513.4H178.4" stroke="#3b4dae" stroke-width="1.25"/>
<path d="M180.6 513.0V519.6M178.0 516.3H183.2" stroke="#3b4dae" stroke-width="1.25"/>
<path d="M183.0 514.5V521.1M180.4 517.8H185.6" stroke="#3b4dae" stroke-width="1.25"/>
<path d="M189.0 517.1V523.7M186.4 520.4H191.6" stroke="#3b4dae" stroke-width="1.25"/>
<path d="M192.2 518.4V525.0M189.6 521.7H194.8" stroke="#3b4dae" stroke-width="1.25"/>
<path d="M195.1 519.6V526.2M192.5 522.9H197.7" stroke="#3b4dae" stroke-width="1.25"/>
<path d="M197.7 521.0V527.5M195.1 524.2H200.2" stroke="#3b4dae" stroke-width="1.25"/>
<path d="M202.9 523.5V530.1M200.3 526.8H205.5" stroke="#3b4dae" stroke-width="1.25"/>
<path d="M210.5 528.1V534.7M207.9 531.4H213.1" stroke="#3b4dae" stroke-width="1.25"/>
<path d="M212.8 530.0V536.6M210.2 533.3H215.4" stroke="#3b4dae" stroke-width="1.25"/>
<path d="M215.1 531.8V538.4M212.5 535.1H217.7" stroke="#3b4dae" stroke-width="1.25"/>
<path d="M217.3 533.4V540.0M214.7 536.7H219.9" stroke="#3b4dae" stroke-width="1.25"/>
<path d="M221.6 536.7V543.3M219.0 540.0H224.2" stroke="#3b4dae" stroke-width="1.25"/>
<path d="M223.7 538.6V545.2M221.1 541.9H226.3" stroke="#3b4dae" stroke-width="1.25"/>
<path d="M227.8 543.0V549.6M225.2 546.3H230.4" stroke="#3b4dae" stroke-width="1.25"/>
<path d="M232.8 547.0V553.6M230.2 550.3H235.4" stroke="#3b4dae" stroke-width="1.25"/>
<path d="M235.8 548.8V555.4M233.2 552.1H238.3" stroke="#3b4dae" stroke-width="1.25"/>
<path d="M238.8 550.5V557.1M236.2 553.8H241.4" stroke="#3b4dae" stroke-width="1.25"/>
<path d="M241.6 552.2V558.8M239.0 555.5H244.2" stroke="#3b4dae" stroke-width="1.25"/>
<path d="M246.2 555.6V562.2M243.6 558.9H248.8" stroke="#3b4dae" stroke-width="1.25"/>
<path d="M251.9 559.8V566.4M249.3 563.1H254.5" stroke="#3b4dae" stroke-width="1.25"/>
<path d="M255.0 561.7V568.3M252.4 565.0H257.6" stroke="#3b4dae" stroke-width="1.25"/>
<path d="M258.1 563.4V570.0M255.5 566.7H260.7" stroke="#3b4dae" stroke-width="1.25"/>
<path d="M260.9 565.3V571.9M258.3 568.6H263.5" stroke="#3b4dae" stroke-width="1.25"/>
<path d="M266.0 569.8V576.4M263.4 573.1H268.6" stroke="#3b4dae" stroke-width="1.25"/>
<path d="M272.3 573.8V580.3M269.7 577.0H274.9" stroke="#3b4dae" stroke-width="1.25"/>
<path d="M275.0 575.9V582.5M272.4 579.2H277.6" stroke="#3b4dae" stroke-width="1.25"/>
<path d="M276.9 578.4V585.0M274.3 581.7H279.5" stroke="#3b4dae" stroke-width="1.25"/>
<path d="M278.8 580.8V587.4M276.2 584.1H281.4" stroke="#3b4dae" stroke-width="1.25"/>
<polyline points="285.6,589.3 292,589.6 294,592.4 361.3,592.4" fill="none" stroke="#3b4dae" stroke-width="1.7"/>
<line x1="291.3" y1="588.6" x2="291.3" y2="596.2" stroke="#3b4dae" stroke-width="1.6"/>
<line x1="293.8" y1="588.6" x2="293.8" y2="596.2" stroke="#3b4dae" stroke-width="1.6"/>
<line x1="296.5" y1="588.6" x2="296.5" y2="596.2" stroke="#3b4dae" stroke-width="1.6"/>
<line x1="299" y1="588.6" x2="299" y2="596.2" stroke="#3b4dae" stroke-width="1.6"/>
<line x1="302" y1="588.6" x2="302" y2="596.2" stroke="#3b4dae" stroke-width="1.6"/>
<line x1="306.3" y1="588.6" x2="306.3" y2="596.2" stroke="#3b4dae" stroke-width="1.6"/>
<line x1="309" y1="588.6" x2="309" y2="596.2" stroke="#3b4dae" stroke-width="1.6"/>
<line x1="312" y1="588.6" x2="312" y2="596.2" stroke="#3b4dae" stroke-width="1.6"/>
<line x1="315" y1="588.6" x2="315" y2="596.2" stroke="#3b4dae" stroke-width="1.6"/>
<line x1="318" y1="588.6" x2="318" y2="596.2" stroke="#3b4dae" stroke-width="1.6"/>
<line x1="322.3" y1="588.6" x2="322.3" y2="596.2" stroke="#3b4dae" stroke-width="1.6"/>
<line x1="328.8" y1="588.6" x2="328.8" y2="596.2" stroke="#3b4dae" stroke-width="1.6"/>
<line x1="338.8" y1="588.6" x2="338.8" y2="596.2" stroke="#3b4dae" stroke-width="1.6"/>
<line x1="341.3" y1="588.6" x2="341.3" y2="596.2" stroke="#3b4dae" stroke-width="1.6"/>
<line x1="347.5" y1="588.6" x2="347.5" y2="596.2" stroke="#3b4dae" stroke-width="1.6"/>
<line x1="350" y1="588.6" x2="350" y2="596.2" stroke="#3b4dae" stroke-width="1.6"/>
<line x1="355" y1="588.6" x2="355" y2="596.2" stroke="#3b4dae" stroke-width="1.6"/>
<line x1="357.8" y1="588.6" x2="357.8" y2="596.2" stroke="#3b4dae" stroke-width="1.6"/>
<rect x="296.5" y="589.8" width="6" height="5.4" rx="1.5" fill="#3b4dae"/>
<rect x="309" y="589.6" width="13.5" height="5.8" rx="1.5" fill="#3b4dae"/>
<polyline points="86.5,466.6 90.0,467.8" fill="none" stroke="#3aaf4e" stroke-width="3.6" stroke-linejoin="round" stroke-linecap="round"/>
<polyline points="95.0,470.2 99.5,472.6" fill="none" stroke="#3aaf4e" stroke-width="3.6" stroke-linejoin="round" stroke-linecap="round"/>
<polyline points="113.0,483.5 121.0,488.5" fill="none" stroke="#3aaf4e" stroke-width="3.6" stroke-linejoin="round" stroke-linecap="round"/>
<polyline points="162.5,507.8 168.5,510.5" fill="none" stroke="#3aaf4e" stroke-width="3.6" stroke-linejoin="round" stroke-linecap="round"/>
<polyline points="191.5,521.3 196.5,523.8" fill="none" stroke="#3aaf4e" stroke-width="3.6" stroke-linejoin="round" stroke-linecap="round"/>
<polyline points="274.0,578.5 279.0,584.0" fill="none" stroke="#3aaf4e" stroke-width="3.6" stroke-linejoin="round" stroke-linecap="round"/>
<polyline points="281.0,588.8 285.0,590.0" fill="none" stroke="#3aaf4e" stroke-width="3.6" stroke-linejoin="round" stroke-linecap="round"/>
<polyline points="100.0,474.5 102.7,479.5 111.9,485.0 115.0,486.0 121.2,490.0 124.2,496.2 129.6,503.0 129.6,507.1 160.0,507.1 169.6,512.0 170.5,514.6 173.5,521.3 194.0,521.3 196.2,523.5 196.2,541.5 203.5,541.5 203.5,547.8 217.9,547.8 217.9,556.0 236.9,556.0 236.9,574.3 277.9,574.3 282.0,588.0 287.0,590.0 287.0,609.3 305.6,609.3 305.6,630.8 307.5,630.8 307.5,651.5 312.7,651.5 312.7,672.7 338.7,672.7" fill="none" stroke="#45a659" stroke-width="1.35" stroke-linejoin="miter"/>
<line x1="88" y1="463.1" x2="88" y2="469.9" stroke="#3ba552" stroke-width="1.6"/>
<line x1="85.8" y1="466.5" x2="90.2" y2="466.5" stroke="#3ba552" stroke-width="2"/>
<line x1="93" y1="464.90000000000003" x2="93" y2="471.7" stroke="#3ba552" stroke-width="1.6"/>
<line x1="90.8" y1="468.3" x2="95.2" y2="468.3" stroke="#3ba552" stroke-width="2"/>
<line x1="97.5" y1="467.1" x2="97.5" y2="473.9" stroke="#3ba552" stroke-width="1.6"/>
<line x1="95.3" y1="470.5" x2="99.7" y2="470.5" stroke="#3ba552" stroke-width="2"/>
<line x1="104" y1="476.90000000000003" x2="104" y2="483.7" stroke="#3ba552" stroke-width="1.6"/>
<line x1="101.8" y1="480.3" x2="106.2" y2="480.3" stroke="#3ba552" stroke-width="2"/>
<line x1="107" y1="479.1" x2="107" y2="485.9" stroke="#3ba552" stroke-width="1.6"/>
<line x1="104.8" y1="482.5" x2="109.2" y2="482.5" stroke="#3ba552" stroke-width="2"/>
<line x1="110" y1="480.8" x2="110" y2="487.59999999999997" stroke="#3ba552" stroke-width="1.6"/>
<line x1="107.8" y1="484.2" x2="112.2" y2="484.2" stroke="#3ba552" stroke-width="2"/>
<line x1="123" y1="489.6" x2="123" y2="496.4" stroke="#3ba552" stroke-width="1.6"/>
<line x1="120.8" y1="493" x2="125.2" y2="493" stroke="#3ba552" stroke-width="2"/>
<line x1="126.5" y1="495.6" x2="126.5" y2="502.4" stroke="#3ba552" stroke-width="1.6"/>
<line x1="124.3" y1="499" x2="128.7" y2="499" stroke="#3ba552" stroke-width="2"/>
<line x1="130.4" y1="503.70000000000005" x2="130.4" y2="510.5" stroke="#3ba552" stroke-width="1.6"/>
<line x1="128.20000000000002" y1="507.1" x2="132.6" y2="507.1" stroke="#3ba552" stroke-width="2"/>
<line x1="133.8" y1="503.70000000000005" x2="133.8" y2="510.5" stroke="#3ba552" stroke-width="1.6"/>
<line x1="131.60000000000002" y1="507.1" x2="136.0" y2="507.1" stroke="#3ba552" stroke-width="2"/>
<line x1="137.3" y1="503.70000000000005" x2="137.3" y2="510.5" stroke="#3ba552" stroke-width="1.6"/>
<line x1="135.10000000000002" y1="507.1" x2="139.5" y2="507.1" stroke="#3ba552" stroke-width="2"/>
<line x1="141.3" y1="503.70000000000005" x2="141.3" y2="510.5" stroke="#3ba552" stroke-width="1.6"/>
<line x1="139.10000000000002" y1="507.1" x2="143.5" y2="507.1" stroke="#3ba552" stroke-width="2"/>
<line x1="151.2" y1="503.70000000000005" x2="151.2" y2="510.5" stroke="#3ba552" stroke-width="1.6"/>
<line x1="149.0" y1="507.1" x2="153.39999999999998" y2="507.1" stroke="#3ba552" stroke-width="2"/>
<line x1="153.5" y1="503.70000000000005" x2="153.5" y2="510.5" stroke="#3ba552" stroke-width="1.6"/>
<line x1="151.3" y1="507.1" x2="155.7" y2="507.1" stroke="#3ba552" stroke-width="2"/>
<line x1="174" y1="517.9" x2="174" y2="524.6999999999999" stroke="#3ba552" stroke-width="1.6"/>
<line x1="171.8" y1="521.3" x2="176.2" y2="521.3" stroke="#3ba552" stroke-width="2"/>
<line x1="180.2" y1="517.9" x2="180.2" y2="524.6999999999999" stroke="#3ba552" stroke-width="1.6"/>
<line x1="178.0" y1="521.3" x2="182.39999999999998" y2="521.3" stroke="#3ba552" stroke-width="2"/>
<line x1="197.7" y1="538.1" x2="197.7" y2="544.9" stroke="#3ba552" stroke-width="1.6"/>
<line x1="195.5" y1="541.5" x2="199.89999999999998" y2="541.5" stroke="#3ba552" stroke-width="2"/>
<line x1="200.6" y1="538.1" x2="200.6" y2="544.9" stroke="#3ba552" stroke-width="1.6"/>
<line x1="198.4" y1="541.5" x2="202.79999999999998" y2="541.5" stroke="#3ba552" stroke-width="2"/>
<line x1="206.9" y1="544.4" x2="206.9" y2="551.1999999999999" stroke="#3ba552" stroke-width="1.6"/>
<line x1="204.70000000000002" y1="547.8" x2="209.1" y2="547.8" stroke="#3ba552" stroke-width="2"/>
<line x1="210.4" y1="544.4" x2="210.4" y2="551.1999999999999" stroke="#3ba552" stroke-width="1.6"/>
<line x1="208.20000000000002" y1="547.8" x2="212.6" y2="547.8" stroke="#3ba552" stroke-width="2"/>
<line x1="219" y1="552.6" x2="219" y2="559.4" stroke="#3ba552" stroke-width="1.6"/>
<line x1="216.8" y1="556" x2="221.2" y2="556" stroke="#3ba552" stroke-width="2"/>
<line x1="223.7" y1="552.6" x2="223.7" y2="559.4" stroke="#3ba552" stroke-width="1.6"/>
<line x1="221.5" y1="556" x2="225.89999999999998" y2="556" stroke="#3ba552" stroke-width="2"/>
<line x1="227.7" y1="552.6" x2="227.7" y2="559.4" stroke="#3ba552" stroke-width="1.6"/>
<line x1="225.5" y1="556" x2="229.89999999999998" y2="556" stroke="#3ba552" stroke-width="2"/>
<line x1="231.2" y1="552.6" x2="231.2" y2="559.4" stroke="#3ba552" stroke-width="1.6"/>
<line x1="229.0" y1="556" x2="233.39999999999998" y2="556" stroke="#3ba552" stroke-width="2"/>
<line x1="239.2" y1="570.9" x2="239.2" y2="577.6999999999999" stroke="#3ba552" stroke-width="1.6"/>
<line x1="237.0" y1="574.3" x2="241.39999999999998" y2="574.3" stroke="#3ba552" stroke-width="2"/>
<line x1="250.2" y1="570.9" x2="250.2" y2="577.6999999999999" stroke="#3ba552" stroke-width="1.6"/>
<line x1="248.0" y1="574.3" x2="252.39999999999998" y2="574.3" stroke="#3ba552" stroke-width="2"/>
<line x1="258.3" y1="570.9" x2="258.3" y2="577.6999999999999" stroke="#3ba552" stroke-width="1.6"/>
<line x1="256.1" y1="574.3" x2="260.5" y2="574.3" stroke="#3ba552" stroke-width="2"/>
<line x1="259.6" y1="570.9" x2="259.6" y2="577.6999999999999" stroke="#3ba552" stroke-width="1.6"/>
<line x1="257.40000000000003" y1="574.3" x2="261.8" y2="574.3" stroke="#3ba552" stroke-width="2"/>
<line x1="273" y1="570.9" x2="273" y2="577.6999999999999" stroke="#3ba552" stroke-width="1.6"/>
<line x1="270.8" y1="574.3" x2="275.2" y2="574.3" stroke="#3ba552" stroke-width="2"/>
<line x1="293.3" y1="605.9" x2="293.3" y2="612.6999999999999" stroke="#3ba552" stroke-width="1.6"/>
<line x1="291.1" y1="609.3" x2="295.5" y2="609.3" stroke="#3ba552" stroke-width="2"/>
<line x1="314.2" y1="669.3000000000001" x2="314.2" y2="676.1" stroke="#3ba552" stroke-width="1.6"/>
<line x1="312.0" y1="672.7" x2="316.4" y2="672.7" stroke="#3ba552" stroke-width="2"/>
<line x1="329" y1="669.3000000000001" x2="329" y2="676.1" stroke="#3ba552" stroke-width="1.6"/>
<line x1="326.8" y1="672.7" x2="331.2" y2="672.7" stroke="#3ba552" stroke-width="2"/>
<line x1="335.8" y1="669.3000000000001" x2="335.8" y2="676.1" stroke="#3ba552" stroke-width="1.6"/>
<line x1="333.6" y1="672.7" x2="338.0" y2="672.7" stroke="#3ba552" stroke-width="2"/>
</svg>
</body></html>
